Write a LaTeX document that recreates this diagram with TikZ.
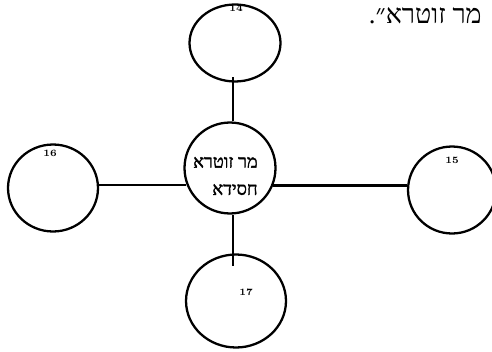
\documentclass[tikz,border=0pt]{standalone}
\usepackage{fontspec}
\usepackage{tikz}
\usetikzlibrary{shapes.geometric}
\TeXXeTstate=1
\newfontfamily\hebfont[Script=Hebrew]{Liberation Serif}
\newfontfamily\hebbold[Script=Hebrew,FakeBold=1.6]{Liberation Serif}

\begin{document}
\begin{tikzpicture}[x=0.02cm,y=-0.02cm,
    ring/.style={draw, ellipse, line width=1.3pt, inner sep=0pt},
    num/.style={font=\fontsize{5.5}{6}\selectfont\bfseries},
    link/.style={line width=1.3pt}]
    
    \useasboundingbox (0,0) rectangle (492,351);
    
    % שורת הטקסט למעלה
    \node[font=\hebfont\fontsize{15.3}{17}\selectfont, anchor=east, inner sep=0pt] (cap) at (482,16) {\beginR מר זוטרא״.\endR};
    
    % העיגול המרכזי
    \node[ring, minimum width=1.82cm, minimum height=1.82cm] (mid) at (230,168) {};
    \node[font=\hebbold\fontsize{10.3}{15.5}\selectfont, align=right, anchor=east, inner sep=0pt] (midtxt) at (258,176)
        {\beginR מר זוטרא\endR\\ \beginR חסידא\endR};
    
    % העיגולים מסביב
    \node[ring, minimum width=1.82cm, minimum height=1.54cm] (top) at (235,43) {};
    \node[ring, minimum width=1.80cm, minimum height=1.74cm] (left) at (53,188) {};
    \node[ring, minimum width=1.76cm, minimum height=1.74cm] (right) at (452,190) {};
    \node[ring, minimum width=2.00cm, minimum height=1.86cm] (bot) at (236,301) {};
    
    % מספרים
    \node[num] (n14) at (236,8) {14};
    \node[num] (n16) at (50,153) {16};
    \node[num] (n15) at (452,160) {15};
    \node[num] (n17) at (246,292) {17};
    
    % קווים
    \draw[link, shorten >=-3pt] (mid.86) -- (mid.86 |- top.south);
    \draw[link, shorten >=-7pt] (mid.-86) -- (mid.-86 |- bot.north);
    \draw[link] (mid.201) -- (mid.201 -| left.east);
    \draw[link] (mid.-22) -- (mid.-22 -| right.west);
    
\end{tikzpicture}
\end{document}
